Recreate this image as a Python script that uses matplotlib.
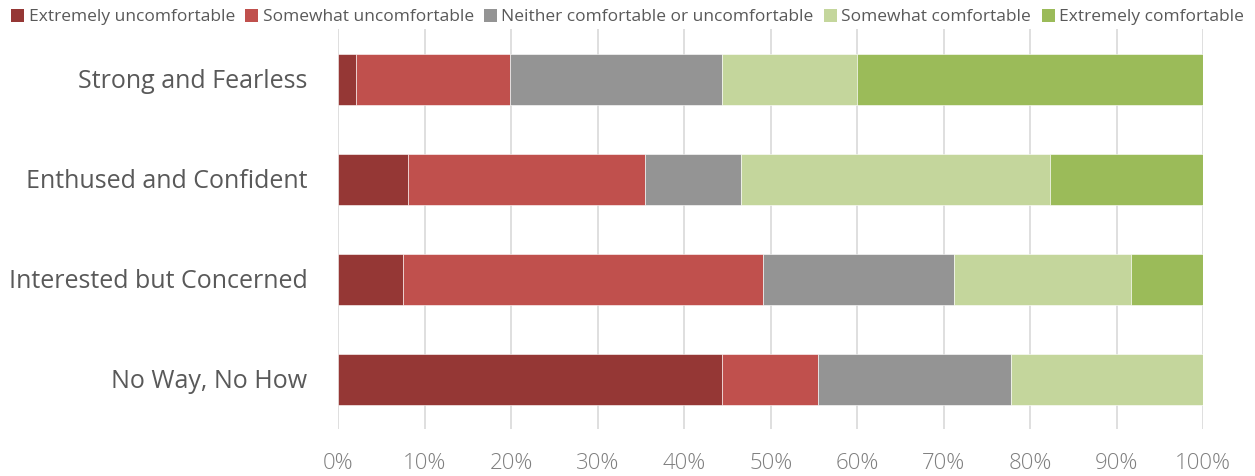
import matplotlib
matplotlib.use("Agg")
import matplotlib.pyplot as plt
from matplotlib.patches import Patch
from matplotlib.ticker import PercentFormatter

categories = ["Strong and Fearless", "Enthused and Confident",
              "Interested but Concerned", "No Way, No How"]
series_names = ["Extremely uncomfortable", "Somewhat uncomfortable",
                "Neither comfortable or uncomfortable", "Somewhat comfortable",
                "Extremely comfortable"]
extremely_uncomf = [2.1, 8.1, 7.5, 44.4]
somewhat_uncomf = [17.8, 27.4, 41.6, 11.1]
neither = [24.5, 11.1, 22.1, 22.3]
somewhat_comf = [15.6, 35.7, 20.4, 22.2]
extremely_comf = [40.0, 17.7, 8.4, 0.0]
colors = ["#953735", "#C0504D", "#949494", "#C4D69C", "#9BBB59"]

plt.rcParams['font.family'] = ['Open Sans', 'DejaVu Sans']

fig = plt.figure(figsize=(12.55, 4.76), dpi=100)
ax = fig.add_axes([338 / 1255, 1 - 429 / 476, (1203.3 - 338) / 1255, 400 / 476])

ypos = list(range(len(categories)))
left = [0.0] * len(categories)
for vals, name, col in zip([extremely_uncomf, somewhat_uncomf, neither, somewhat_comf, extremely_comf],
                           series_names, colors):
    ax.barh(ypos, vals, left=left, height=0.51, color=col, label=name,
            edgecolor="white", linewidth=0.4, zorder=3)
    left = [l + v for l, v in zip(left, vals)]

ax.set_xlim(0, 100)
ax.set_ylim(3.5, -0.5)
ax.set_yticks(ypos)
ax.set_yticklabels(categories, fontsize=18, color="#595959")
ax.set_xticks(range(0, 101, 10))
ax.xaxis.set_major_formatter(PercentFormatter(decimals=0))
ax.tick_params(axis='x', labelsize=16, colors="#7f7f7f", length=0, pad=17)
for lbl in ax.get_xticklabels():
    lbl.set_fontweight('light')
ax.tick_params(axis='y', length=0, pad=22)
ax.grid(axis='x', color="#d9d9d9", linewidth=1.2, zorder=0)
for s in ax.spines.values():
    s.set_visible(False)

handles = [Patch(facecolor=c, edgecolor='none') for c in colors]
fig.legend(handles, series_names, loc='center', bbox_to_anchor=(0.5, 1 - 17 / 476),
           ncol=5, frameon=False, fontsize=12.5, handlelength=0.75, handleheight=0.75,
           handletextpad=0.25, columnspacing=0.6, labelcolor="#595959")

fig.savefig("out.png", dpi=100)
